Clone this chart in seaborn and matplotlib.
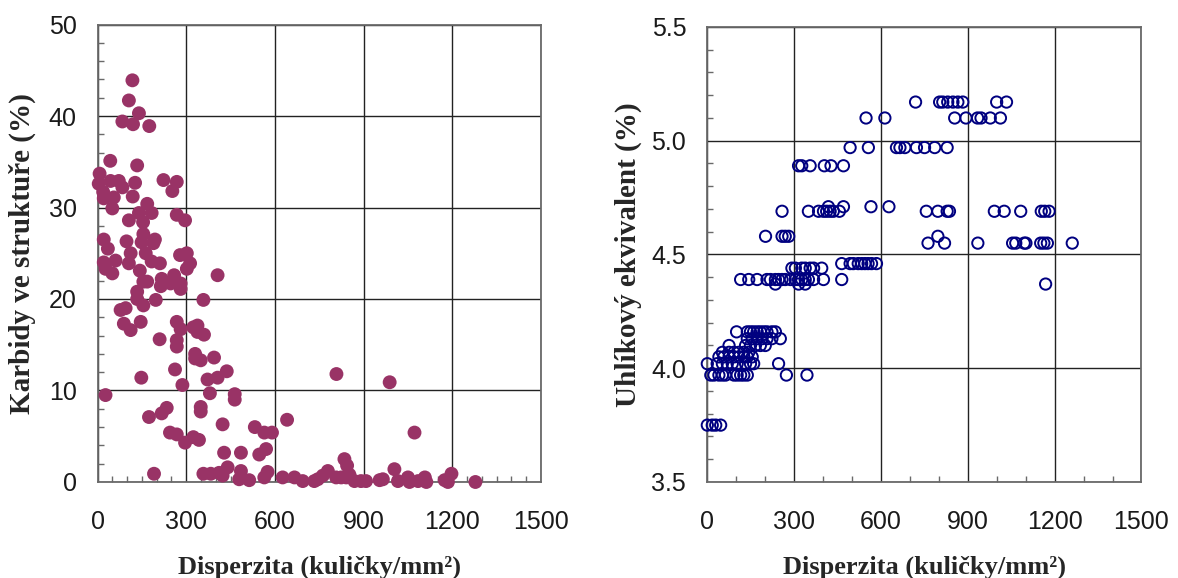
import numpy as np
import pandas as pd
import matplotlib
matplotlib.use("Agg")
import matplotlib.pyplot as plt
from matplotlib.ticker import MultipleLocator
import seaborn as sns

# ---------------- data: left panel (carbides in structure, %) ----------------
left_x = [118, 106, 140, 84, 120, 175, 43, 134, 7, 4, 44, 72, 84, 127, 223, 268, 253, 19, 21, 55,
          119, 50, 168, 140, 183, 106, 154, 268, 296, 21, 35, 98, 155, 149, 194, 189, 112, 163, 21, 61,
          106, 183, 211, 279, 302, 313, 302, 27, 50, 143, 217, 259, 406,
          155, 168, 214, 247, 281, 281, 134, 134, 155, 197, 78, 95, 358, 89, 112, 146, 268,
          281, 324, 338, 338, 360, 210, 268, 268, 330, 330, 349, 394, 262, 148, 287, 372, 406, 437, 808, 988,
          27, 380, 464, 464, 349, 349, 234, 217, 174, 423, 641, 532, 564, 590, 245, 268, 296, 324, 343,
          428, 485, 547, 570, 191, 358, 383, 411, 440, 423, 479, 513, 485, 564, 575,
          626, 666, 694, 733, 745, 762, 779, 807, 824, 841, 852, 835, 844, 869, 891, 908, 954, 965, 1004,
          1016, 1050, 1055, 1072, 1084, 1107, 1112, 1174, 1185, 1197, 1278]
left_y = [43.9, 41.7, 40.3, 39.4, 39.1, 38.9, 35.1, 34.6, 33.7, 32.6, 32.9, 32.9, 32.2, 32.7, 33.0, 32.8, 31.8, 31.7, 31.0, 31.1,
          31.2, 29.9, 30.4, 29.4, 29.4, 28.6, 28.4, 29.2, 28.6, 26.5, 25.5, 26.3, 27.1, 26.2, 26.5, 26.1, 25.0, 25.0, 24.0, 24.2,
          23.9, 24.1, 23.9, 24.8, 25.0, 23.9, 23.3, 23.3, 22.8, 23.1, 22.2, 22.6, 22.6,
          21.9, 21.9, 21.4, 21.7, 21.7, 21.1, 20.8, 20.0, 19.3, 19.9, 18.8, 19.0, 19.9, 17.3, 16.6, 17.5, 17.5,
          16.7, 16.9, 17.1, 16.4, 16.1, 15.6, 15.5, 14.8, 14.0, 13.5, 13.3, 13.6, 12.3, 11.4, 10.6, 11.2, 11.4, 12.1, 11.8, 10.9,
          9.5, 9.7, 9.6, 9.0, 8.2, 7.7, 8.1, 7.5, 7.1, 6.3, 6.8, 6.0, 5.4, 5.4, 5.4, 5.2, 4.3, 4.9, 4.6,
          3.2, 3.2, 3.0, 3.6, 0.9, 0.9, 0.9, 1.0, 1.6, 0.7, 0.3, 0.2, 1.2, 0.5, 1.1,
          0.5, 0.5, 0.1, 0.1, 0.3, 0.7, 1.2, 0.5, 0.5, 0.5, 0.8, 2.5, 1.8, 0.1, 0.1, 0.1, 0.2, 0.3, 1.4,
          0.1, 0.5, 0.0, 5.4, 0.1, 0.5, 0.0, 0.2, 0.0, 0.9, 0.0]

# ---------------- data: right panel (carbon equivalent, %) ----------------
right_x = [1, 18, 30, 47,
           13, 24, 41, 53, 64, 93, 104, 116, 127, 139, 274, 345,
           1, 35, 53, 70, 87, 104, 133, 150, 161, 247,
           41, 58, 76, 93, 110, 127, 139, 156,
           53, 76, 93, 110, 127, 144,
           76, 133, 150, 167, 184, 201,
           139, 156, 173, 190, 207, 224, 253,
           102, 139, 150, 161, 173, 184, 196, 207, 224, 236,
           116, 144, 173, 207, 219, 236, 247, 259, 270, 288, 305, 316, 327, 339, 350, 368, 402, 465,
           236, 316, 339, 1169,
           293, 305, 327, 339, 356, 368, 396,
           465, 494, 505, 522, 534, 545, 556, 568, 585,
           763, 820, 935, 1055, 1066, 1095, 1101, 1152, 1163, 1175, 1261,
           202, 259, 270, 282, 797,
           259, 350, 385, 402, 413, 425, 436, 457, 757, 797, 829, 837, 992, 1026, 1083, 1154, 1166, 1181,
           419, 471, 566, 628,
           316, 327, 356, 405, 428, 471,
           494, 557, 654, 666, 683, 723, 751, 786, 829,
           549, 614, 855, 894, 934, 946, 978, 1013,
           720, 803, 814, 831, 849, 866, 883, 1000, 1034]
right_y = [3.75] * 4 + [3.97] * 12 + [4.02] * 10 + [4.05] * 8 + [4.07] * 6 + [4.10] * 6 + \
          [4.13] * 7 + [4.16] * 10 + [4.39] * 18 + [4.37] * 4 + [4.44] * 7 + [4.46] * 9 + \
          [4.55] * 11 + [4.58] * 5 + [4.69] * 18 + [4.71] * 4 + [4.89] * 6 + [4.97] * 9 + \
          [5.10] * 8 + [5.17] * 9

x_ticks = [0, 300, 600, 900, 1200, 1500]
left_yticks = [0, 10, 20, 30, 40, 50]
right_yticks = [3.5, 4.0, 4.5, 5.0, 5.5]

xlabel = "Disperzita (kuličky/mm²)"
left_ylabel = "Karbidy ve struktuře (%)"
right_ylabel = "Uhlíkový ekvivalent (%)"

df_left = pd.DataFrame({"x": left_x, "y": left_y})
df_right = pd.DataFrame({"x": right_x, "y": right_y})

sns.set_theme(style="white")
plt.rcParams["font.family"] = ["Liberation Sans", "DejaVu Sans"]

fig = plt.figure(figsize=(11.78, 5.78), dpi=100)
axL = fig.add_axes([0.0828, 0.1661, 0.3765, 0.7915])
axR = fig.add_axes([0.6002, 0.1661, 0.3688, 0.7872])

grid_col = "#222222"
spine_col = "#6a6a6a"
tick_fs = 18
serif = ["Liberation Serif", "DejaVu Serif"]
xlabel_font = dict(family=serif, weight="bold", size=19)
ylabel_font = dict(family=serif, weight="bold", size=21)

sns.scatterplot(data=df_left, x="x", y="y", ax=axL, s=100, color="#993366",
                edgecolor="none", linewidth=0, clip_on=False, zorder=3)
sns.scatterplot(data=df_right, x="x", y="y", ax=axR, s=66, facecolor="none",
                edgecolor="#000080", linewidth=1.4, marker="o", clip_on=False, zorder=3)

for ax, yt, ymin, ymax, xminor, yminor, fmt in [
        (axL, left_yticks, 0, 50, 50, 2, "{:.0f}"),
        (axR, right_yticks, 3.5, 5.5, 100, 0.1, "{:.1f}")]:
    ax.set_xlim(0, 1500)
    ax.set_ylim(ymin, ymax)
    ax.set_xticks(x_ticks)
    ax.set_xticklabels([str(t) for t in x_ticks])
    ax.set_yticks(yt)
    ax.set_yticklabels([fmt.format(t) for t in yt])
    ax.xaxis.set_minor_locator(MultipleLocator(xminor))
    ax.yaxis.set_minor_locator(MultipleLocator(yminor))
    ax.grid(True, which="major", color=grid_col, linewidth=1.0, zorder=1)
    ax.set_axisbelow(True)
    ax.tick_params(which="major", length=0, labelsize=tick_fs, colors="#1a1a1a")
    ax.tick_params(axis="x", which="major", pad=20)
    ax.tick_params(axis="y", which="major", pad=15)
    ax.tick_params(which="minor", direction="in", length=4, width=1.0, color=spine_col,
                   bottom=True, left=True, top=False, right=False)
    for sp in ax.spines.values():
        sp.set_visible(True)
        sp.set_color(spine_col)
        sp.set_linewidth(1.3)
    ax.set_xlabel(xlabel, fontdict=xlabel_font, labelpad=16)

axL.set_ylabel(left_ylabel, fontdict=ylabel_font, labelpad=9)
axR.set_ylabel(right_ylabel, fontdict=ylabel_font, labelpad=7)

fig.savefig("out.png", dpi=100)
